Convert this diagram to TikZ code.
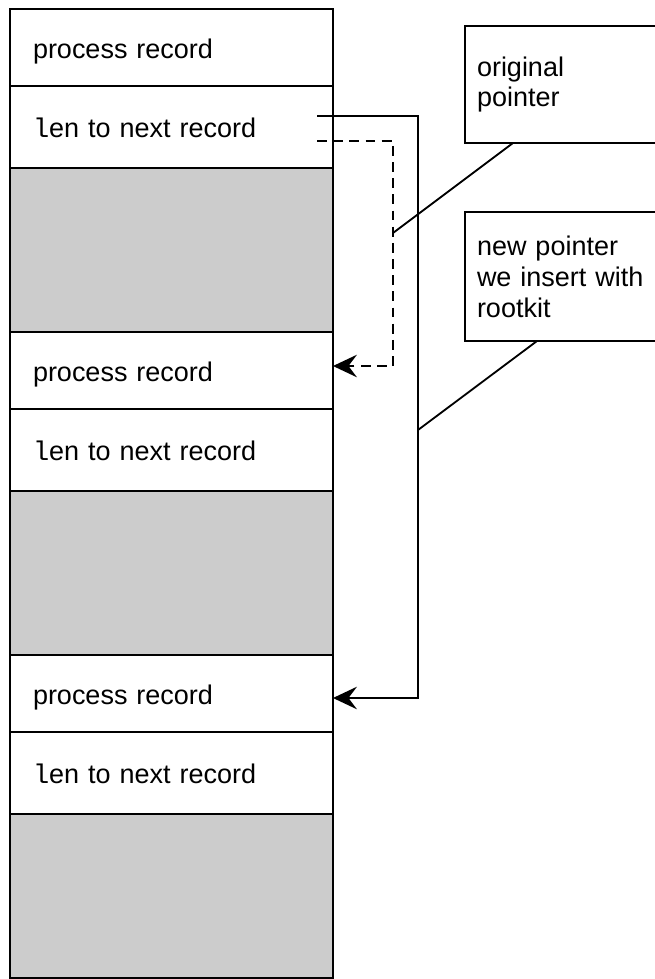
\documentclass[tikz,border=0pt]{standalone}
\usepackage{fontspec}
\setmainfont{Liberation Sans}
\setmonofont{Liberation Mono}
\usepackage{tikz}
\usetikzlibrary{positioning,arrows.meta,calc}
\newcommand{\reclen}{{\ttfamily l}en to next record}

\begin{document}
\begin{tikzpicture}[
  recbox/.style={draw, line width=1.4pt, outer sep=0pt, inner xsep=0.575cm,
    text width=6.925cm, align=left, text height=20pt, text depth=5pt,
    font=\fontsize{19.2}{23}\selectfont},
  gapbox/.style={draw, line width=1.4pt, outer sep=0pt, fill=gray!40,
    minimum width=8.075cm, minimum height=4.1cm},
  note/.style={draw, line width=1.4pt, outer sep=0pt, inner xsep=0.3cm,
    text width=4.775cm, align=left, font=\fontsize{19.2}{22}\selectfont},
  arr/.style={-{Stealth[length=17pt, width=16pt, inset=6pt]}, line width=1.4pt},
  dasharr/.style={arr, dash pattern=on 7pt off 4.5pt},
  leader/.style={line width=1.3pt}
]
\useasboundingbox (0, 0) rectangle (16.375, -24.475);

% Column: three records, each followed by free space
\foreach \i in {1,2,3} {
  \pgfmathsetmacro{\top}{-0.225 - 8.075*(\i-1)}
  \node[recbox, anchor=north west, minimum height=1.925cm] (rec\i)
    at (0.25, \top) {process record};
  \node[recbox, below=0pt of rec\i, minimum height=2.05cm] (len\i) {\reclen};
  \node[gapbox, below=0pt of len\i] (gap\i) {};
}

% Callouts
\node[note, anchor=north west, minimum height=2.925cm] (orig)
  at (11.625, -0.65) {original\\pointer};
\node[note, anchor=north west, minimum height=3.225cm] (newptr)
  at (11.625, -5.3) {new pointer\\we insert with\\rootkit};

% Pointer corners
\coordinate (newstart) at ($(len1.east)+(-0.4, 0.275)$);
\coordinate (newbend) at (10.45, -17.45);
\coordinate (origstart) at ($(len1.east)+(-0.4, -0.35)$);
\coordinate (origbend) at (9.825, -9.15);

% Original pointer: to the next record
\draw[dasharr] (origstart) -| (origbend) -- (origbend -| rec2.east);

% New pointer: skips one record
\draw[arr] (newstart) -| (newbend) -- (newbend -| rec3.east);

% Leaders from the callouts
\coordinate (origfoot) at (9.825, -5.825);
\coordinate (newfoot) at (10.45, -10.75);
\draw[leader] ($(orig.south west)+(1.2, 0)$) -- (origfoot);
\draw[leader] ($(newptr.south west)+(1.8, 0)$) -- (newfoot);

\end{tikzpicture}
\end{document}
